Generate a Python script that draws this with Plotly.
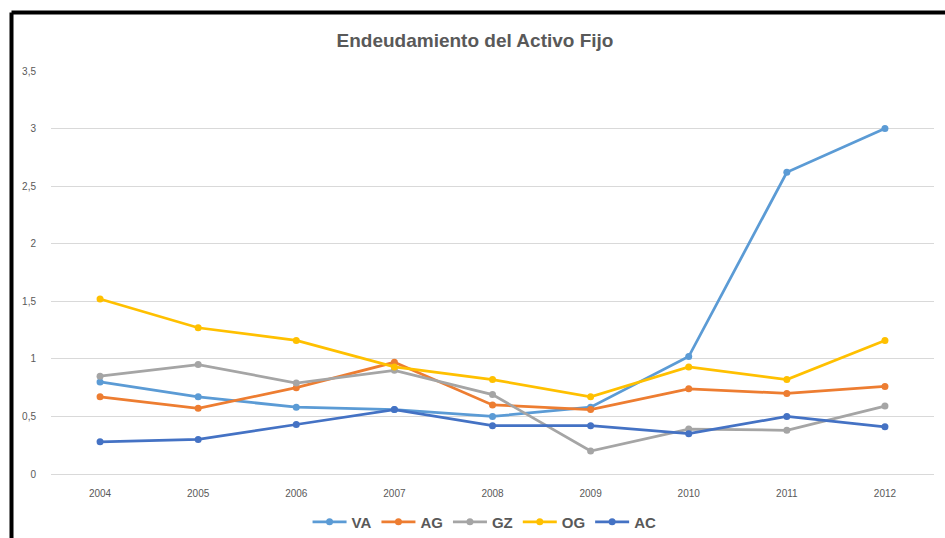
import plotly.graph_objects as go

years = ["2004", "2005", "2006", "2007", "2008", "2009", "2010", "2011", "2012"]
va = [0.80, 0.67, 0.58, 0.56, 0.50, 0.58, 1.02, 2.62, 3.00]
ag = [0.67, 0.57, 0.75, 0.97, 0.60, 0.56, 0.74, 0.70, 0.76]
gz = [0.85, 0.95, 0.79, 0.90, 0.69, 0.20, 0.39, 0.38, 0.59]
og = [1.52, 1.27, 1.16, 0.93, 0.82, 0.67, 0.93, 0.82, 1.16]
ac = [0.28, 0.30, 0.43, 0.56, 0.42, 0.42, 0.35, 0.50, 0.41]
ytick_vals = [0, 0.5, 1, 1.5, 2, 2.5, 3, 3.5]
ytick_text = ["0", "0,5", "1", "1,5", "2", "2,5", "3", "3,5"]

series = [
    ("VA", va, "#5B9BD5"),
    ("AG", ag, "#ED7D31"),
    ("GZ", gz, "#A5A5A5"),
    ("OG", og, "#FFC000"),
    ("AC", ac, "#4472C4"),
]

fig = go.Figure()
for name, vals, color in series:
    fig.add_trace(go.Scatter(
        x=years, y=vals, name=name, mode="lines+markers",
        line=dict(color=color, width=2.75),
        marker=dict(color=color, size=7, symbol="circle"),
    ))

W, H = 945, 538
ml, mr, mt, mb = 51, 11, 71, 64
pw, ph = W - ml - mr, H - mt - mb

fig.update_layout(
    width=W, height=H,
    margin=dict(l=ml, r=mr, t=mt, b=mb, autoexpand=False),
    paper_bgcolor="white", plot_bgcolor="white",
    font=dict(family="Liberation Sans, Arial, sans-serif", color="#595959"),
    title=dict(
        text="<b>Endeudamiento del Activo Fijo</b>",
        x=475 / W, xanchor="center", y=1 - 40 / H, yanchor="middle",
        font=dict(size=19, color="#595959", family="Liberation Sans, Arial, sans-serif"),
    ),
    xaxis=dict(
        type="category", range=[-0.5, 8.5],
        showgrid=False, showline=True, linecolor="#D9D9D9", linewidth=1,
        ticks="", tickfont=dict(size=10, color="#595959"),
        zeroline=False, ticklabelstandoff=10,
    ),
    yaxis=dict(
        range=[0, 3.5], tickvals=ytick_vals, ticktext=ytick_text,
        showgrid=True, gridcolor="#D9D9D9", gridwidth=1,
        zeroline=False, showline=False, ticks="",
        tickfont=dict(size=10, color="#595959"),
        ticklabelstandoff=14,
    ),
    legend=dict(
        orientation="h", x=464 / W, xanchor="center",
        y=-48 / ph, yanchor="middle",
        font=dict(size=15, color="#595959", family="Liberation Sans, Arial, sans-serif", weight="bold"),
        itemwidth=34, tracegroupgap=0,
    ),
    showlegend=True,
)

# Black frame edges (top and left) visible in the reference crop
x_left = (11.5 - ml) / pw
y_top = 1 + (mt - 12.5) / ph
y_bottom = -(mb + 5) / ph
x_right = 1 + (mr + 5) / pw
fig.add_shape(type="line", xref="paper", yref="paper",
              x0=x_left, x1=x_left, y0=y_bottom, y1=y_top,
              line=dict(color="black", width=4))
fig.add_shape(type="line", xref="paper", yref="paper",
              x0=x_left, x1=x_right, y0=y_top, y1=y_top,
              line=dict(color="black", width=4))

fig.write_html(
    "out.html",
    config={"displayModeBar": False},
    post_script="document.body.style.margin='0';document.body.style.overflow='hidden';",
)
